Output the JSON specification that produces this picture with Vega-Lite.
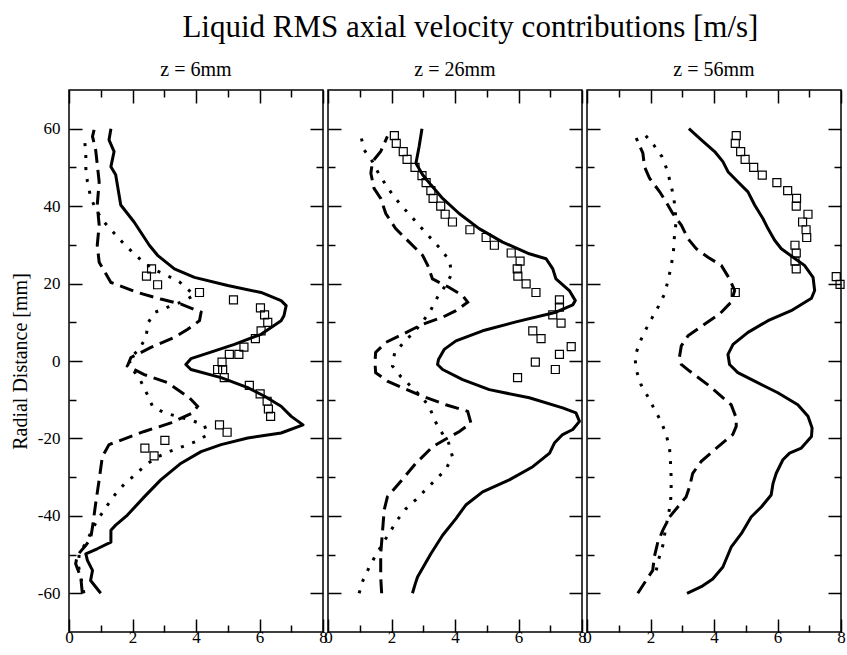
{
  "$schema": "https://vega.github.io/schema/vega-lite/v6.json",
  "padding": {"left": 9, "top": 11, "right": 0, "bottom": 0},
  "background": "white",
  "title": {"text": "Liquid RMS axial velocity contributions [m/s]", "font": "Liberation Serif", "fontSize": 31, "fontWeight": "normal", "color": "black", "anchor": "middle", "offset": 16, "dx": 42},
  "config": {
    "view": {"stroke": "black", "strokeWidth": 1.5},
    "font": "Liberation Serif",
    "axis": {"domain": false, "grid": false, "tickColor": "black", "tickWidth": 1.5, "labelFont": "Liberation Serif", "labelFontSize": 17, "labelColor": "black", "labelFlush": false, "titleFont": "Liberation Serif", "titleFontWeight": "normal", "titleFontSize": 20, "titleColor": "black"},
    "title": {"font": "Liberation Serif", "fontWeight": "normal", "fontSize": 20, "color": "black", "offset": 9}
  },
  "bounds": "flush",
  "spacing": 5,
  "datasets": {
    "p1": [
      {"s":"solid","x":1.32,"y":60},{"s":"solid","x":1.26,"y":57.1},{"s":"solid","x":1.42,"y":54.1},{"s":"solid","x":1.32,"y":50.2},{"s":"solid","x":1.47,"y":48.1},{"s":"solid","x":1.63,"y":40.3},{"s":"solid","x":2.05,"y":35.9},{"s":"solid","x":2.53,"y":29.9},{"s":"solid","x":2.79,"y":27.3},{"s":"solid","x":3.32,"y":23.8},{"s":"solid","x":3.95,"y":21.6},{"s":"solid","x":5.0,"y":19.5},{"s":"solid","x":6.05,"y":17.7},{"s":"solid","x":6.68,"y":15.6},{"s":"solid","x":6.84,"y":14.3},{"s":"solid","x":6.77,"y":11.7},{"s":"solid","x":6.68,"y":10.4},{"s":"solid","x":6.05,"y":6.9},{"s":"solid","x":5.21,"y":4.3},{"s":"solid","x":4.47,"y":2.3},{"s":"solid","x":3.84,"y":0.6},{"s":"solid","x":3.68,"y":-0.9},{"s":"solid","x":3.84,"y":-2.2},{"s":"solid","x":4.79,"y":-4.3},{"s":"solid","x":5.63,"y":-6.9},{"s":"solid","x":6.16,"y":-9.1},{"s":"solid","x":6.68,"y":-11.7},{"s":"solid","x":7.0,"y":-14.3},{"s":"solid","x":7.37,"y":-16.5},{"s":"solid","x":6.68,"y":-18.6},{"s":"solid","x":5.63,"y":-19.9},{"s":"solid","x":4.79,"y":-21.6},{"s":"solid","x":4.16,"y":-23.4},{"s":"solid","x":3.53,"y":-26.4},{"s":"solid","x":2.89,"y":-30.7},{"s":"solid","x":2.37,"y":-35.1},{"s":"solid","x":1.84,"y":-39.8},{"s":"solid","x":1.47,"y":-42.4},{"s":"solid","x":1.32,"y":-43.7},{"s":"solid","x":1.32,"y":-46.8},{"s":"solid","x":0.89,"y":-48.5},{"s":"solid","x":0.53,"y":-49.8},{"s":"solid","x":0.58,"y":-51.5},{"s":"solid","x":0.74,"y":-54.1},{"s":"solid","x":0.68,"y":-56.7},{"s":"solid","x":1.0,"y":-60},
      {"s":"dashed","x":0.79,"y":59.7},{"s":"dashed","x":0.74,"y":58},{"s":"dashed","x":0.84,"y":54.5},{"s":"dashed","x":0.95,"y":46.3},{"s":"dashed","x":0.89,"y":40.3},{"s":"dashed","x":0.95,"y":35.1},{"s":"dashed","x":0.89,"y":29.9},{"s":"dashed","x":0.95,"y":25.5},{"s":"dashed","x":1.32,"y":20.3},{"s":"dashed","x":2.16,"y":17.7},{"s":"dashed","x":2.89,"y":16.0},{"s":"dashed","x":3.53,"y":14.7},{"s":"dashed","x":4.16,"y":12.6},{"s":"dashed","x":4.11,"y":10.4},{"s":"dashed","x":3.74,"y":8.2},{"s":"dashed","x":3.32,"y":6.1},{"s":"dashed","x":2.58,"y":3.5},{"s":"dashed","x":1.95,"y":0.9},{"s":"dashed","x":1.84,"y":-1.3},{"s":"dashed","x":2.37,"y":-3.5},{"s":"dashed","x":3.11,"y":-5.6},{"s":"dashed","x":3.79,"y":-9.5},{"s":"dashed","x":4.05,"y":-11.7},{"s":"dashed","x":3.89,"y":-13.4},{"s":"dashed","x":3.21,"y":-16.0},{"s":"dashed","x":2.37,"y":-18.2},{"s":"dashed","x":1.26,"y":-21.6},{"s":"dashed","x":1.05,"y":-24.7},{"s":"dashed","x":0.95,"y":-30.7},{"s":"dashed","x":0.84,"y":-36.8},{"s":"dashed","x":0.74,"y":-42.9},{"s":"dashed","x":0.68,"y":-45.9},{"s":"dashed","x":0.53,"y":-47.6},{"s":"dashed","x":0.26,"y":-50.2},{"s":"dashed","x":0.21,"y":-52.4},{"s":"dashed","x":0.37,"y":-55.8},{"s":"dashed","x":0.42,"y":-60},
      {"s":"dotted","x":0.47,"y":58.5},{"s":"dotted","x":0.49,"y":57.1},{"s":"dotted","x":0.53,"y":53.7},{"s":"dotted","x":0.53,"y":49.8},{"s":"dotted","x":0.58,"y":46.3},{"s":"dotted","x":0.68,"y":42.4},{"s":"dotted","x":0.84,"y":39.2},{"s":"dotted","x":1.08,"y":36.1},{"s":"dotted","x":1.37,"y":33.5},{"s":"dotted","x":1.68,"y":30.7},{"s":"dotted","x":2.0,"y":28.1},{"s":"dotted","x":2.32,"y":25.7},{"s":"dotted","x":2.68,"y":23.6},{"s":"dotted","x":3.08,"y":22.1},{"s":"dotted","x":3.47,"y":20.5},{"s":"dotted","x":3.95,"y":17.0},{"s":"dotted","x":3.53,"y":15.2},{"s":"dotted","x":3.11,"y":13.9},{"s":"dotted","x":2.71,"y":12.6},{"s":"dotted","x":2.5,"y":10.0},{"s":"dotted","x":2.42,"y":6.1},{"s":"dotted","x":2.21,"y":3.0},{"s":"dotted","x":1.89,"y":0.6},{"s":"dotted","x":1.95,"y":-1.5},{"s":"dotted","x":2.26,"y":-5.2},{"s":"dotted","x":2.47,"y":-8.7},{"s":"dotted","x":2.63,"y":-11.7},{"s":"dotted","x":3.0,"y":-13.4},{"s":"dotted","x":3.42,"y":-14.3},{"s":"dotted","x":3.84,"y":-15.3},{"s":"dotted","x":4.26,"y":-16.5},{"s":"dotted","x":4.37,"y":-19.0},{"s":"dotted","x":4.0,"y":-20.8},{"s":"dotted","x":3.58,"y":-22.1},{"s":"dotted","x":3.16,"y":-23.4},{"s":"dotted","x":2.79,"y":-24.8},{"s":"dotted","x":2.42,"y":-26.8},{"s":"dotted","x":2.08,"y":-29.4},{"s":"dotted","x":1.74,"y":-31.8},{"s":"dotted","x":1.44,"y":-34.6},{"s":"dotted","x":1.19,"y":-37.5},{"s":"dotted","x":0.95,"y":-40.4},{"s":"dotted","x":0.74,"y":-43.3},{"s":"dotted","x":0.56,"y":-46.7},{"s":"dotted","x":0.32,"y":-49.6},{"s":"dotted","x":0.3,"y":-53},{"s":"dotted","x":0.4,"y":-57},{"s":"dotted","x":0.47,"y":-60},
      {"s":"exp","x":2.6,"y":23.8},{"s":"exp","x":2.44,"y":21.9},{"s":"exp","x":2.79,"y":19.7},{"s":"exp","x":4.11,"y":17.7},{"s":"exp","x":5.18,"y":15.8},{"s":"exp","x":6.03,"y":13.7},{"s":"exp","x":6.16,"y":11.9},{"s":"exp","x":6.26,"y":10.0},{"s":"exp","x":6.05,"y":7.8},{"s":"exp","x":5.87,"y":5.8},{"s":"exp","x":5.51,"y":3.6},{"s":"exp","x":5.35,"y":1.7},{"s":"exp","x":5.05,"y":1.7},{"s":"exp","x":4.82,"y":-0.3},{"s":"exp","x":4.68,"y":-2.2},{"s":"exp","x":4.84,"y":-2.2},{"s":"exp","x":4.89,"y":-4.3},{"s":"exp","x":5.68,"y":-6.3},{"s":"exp","x":6.02,"y":-8.5},{"s":"exp","x":6.24,"y":-10.4},{"s":"exp","x":6.28,"y":-12.4},{"s":"exp","x":6.35,"y":-14.3},{"s":"exp","x":4.74,"y":-16.5},{"s":"exp","x":4.98,"y":-18.4},{"s":"exp","x":3.02,"y":-20.5},{"s":"exp","x":2.39,"y":-22.5},{"s":"exp","x":2.68,"y":-24.5}
    ],
    "p2": [
      {"s":"solid","x":2.96,"y":60},{"s":"solid","x":2.87,"y":55.4},{"s":"solid","x":2.77,"y":51.1},{"s":"solid","x":2.98,"y":48.1},{"s":"solid","x":3.24,"y":45.5},{"s":"solid","x":3.61,"y":42.0},{"s":"solid","x":4.13,"y":38.1},{"s":"solid","x":4.76,"y":34.2},{"s":"solid","x":5.5,"y":30.7},{"s":"solid","x":6.34,"y":27.7},{"s":"solid","x":6.87,"y":26.4},{"s":"solid","x":7.08,"y":23.8},{"s":"solid","x":7.18,"y":21.2},{"s":"solid","x":7.6,"y":18.2},{"s":"solid","x":7.79,"y":15.6},{"s":"solid","x":7.71,"y":14.5},{"s":"solid","x":7.18,"y":12.6},{"s":"solid","x":5.92,"y":10.1},{"s":"solid","x":4.87,"y":7.8},{"s":"solid","x":4.03,"y":5.2},{"s":"solid","x":3.66,"y":3.0},{"s":"solid","x":3.48,"y":0.4},{"s":"solid","x":3.45,"y":-0.9},{"s":"solid","x":3.61,"y":-2.2},{"s":"solid","x":4.24,"y":-4.8},{"s":"solid","x":5.08,"y":-7.4},{"s":"solid","x":6.34,"y":-9.5},{"s":"solid","x":7.39,"y":-12.1},{"s":"solid","x":7.81,"y":-13.4},{"s":"solid","x":7.92,"y":-15.6},{"s":"solid","x":7.71,"y":-17.7},{"s":"solid","x":7.39,"y":-19.0},{"s":"solid","x":7.13,"y":-21.2},{"s":"solid","x":6.98,"y":-23.8},{"s":"solid","x":6.45,"y":-27.3},{"s":"solid","x":5.71,"y":-30.7},{"s":"solid","x":4.87,"y":-33.8},{"s":"solid","x":4.34,"y":-37.2},{"s":"solid","x":4.03,"y":-40.7},{"s":"solid","x":3.61,"y":-45.0},{"s":"solid","x":3.24,"y":-49.8},{"s":"solid","x":2.82,"y":-55.8},{"s":"solid","x":2.75,"y":-57.5},{"s":"solid","x":2.66,"y":-60},
      {"s":"dashed","x":1.87,"y":58.0},{"s":"dashed","x":1.66,"y":54.1},{"s":"dashed","x":1.40,"y":51.5},{"s":"dashed","x":1.35,"y":48.5},{"s":"dashed","x":1.45,"y":44.6},{"s":"dashed","x":1.66,"y":42.0},{"s":"dashed","x":1.82,"y":38.1},{"s":"dashed","x":2.13,"y":34.2},{"s":"dashed","x":2.56,"y":30.7},{"s":"dashed","x":2.98,"y":27.3},{"s":"dashed","x":3.14,"y":24.7},{"s":"dashed","x":3.29,"y":21.2},{"s":"dashed","x":3.82,"y":19.0},{"s":"dashed","x":4.24,"y":16.9},{"s":"dashed","x":4.40,"y":15.2},{"s":"dashed","x":4.03,"y":13.0},{"s":"dashed","x":3.61,"y":11.3},{"s":"dashed","x":2.98,"y":9.5},{"s":"dashed","x":2.35,"y":6.9},{"s":"dashed","x":1.82,"y":4.8},{"s":"dashed","x":1.5,"y":2.2},{"s":"dashed","x":1.48,"y":-0.4},{"s":"dashed","x":1.5,"y":-3.0},{"s":"dashed","x":1.87,"y":-5.2},{"s":"dashed","x":2.35,"y":-6.9},{"s":"dashed","x":2.98,"y":-9.1},{"s":"dashed","x":3.71,"y":-11.3},{"s":"dashed","x":4.4,"y":-13.0},{"s":"dashed","x":4.5,"y":-16.0},{"s":"dashed","x":4.14,"y":-18.2},{"s":"dashed","x":3.77,"y":-19.9},{"s":"dashed","x":3.3,"y":-22.1},{"s":"dashed","x":2.77,"y":-26.4},{"s":"dashed","x":2.24,"y":-31.6},{"s":"dashed","x":1.87,"y":-35.1},{"s":"dashed","x":1.77,"y":-38.5},{"s":"dashed","x":1.72,"y":-43.7},{"s":"dashed","x":1.66,"y":-49.8},{"s":"dashed","x":1.66,"y":-55.8},{"s":"dashed","x":1.69,"y":-60},
      {"s":"dotted","x":1.03,"y":58.3},{"s":"dotted","x":1.14,"y":54.5},{"s":"dotted","x":1.4,"y":51.5},{"s":"dotted","x":1.59,"y":48.5},{"s":"dotted","x":1.82,"y":45.5},{"s":"dotted","x":2.08,"y":42.4},{"s":"dotted","x":2.37,"y":39.6},{"s":"dotted","x":2.66,"y":37.0},{"s":"dotted","x":2.96,"y":34.2},{"s":"dotted","x":3.25,"y":31.6},{"s":"dotted","x":3.54,"y":29.0},{"s":"dotted","x":3.82,"y":26.0},{"s":"dotted","x":3.9,"y":22.5},{"s":"dotted","x":3.7,"y":19.5},{"s":"dotted","x":3.45,"y":16.5},{"s":"dotted","x":3.24,"y":13.2},{"s":"dotted","x":2.98,"y":10.1},{"s":"dotted","x":2.71,"y":7.5},{"s":"dotted","x":2.4,"y":4.9},{"s":"dotted","x":2.1,"y":2.2},{"s":"dotted","x":2.03,"y":-1.3},{"s":"dotted","x":2.3,"y":-4.1},{"s":"dotted","x":2.61,"y":-6.5},{"s":"dotted","x":2.92,"y":-9.1},{"s":"dotted","x":3.19,"y":-11.7},{"s":"dotted","x":3.35,"y":-15.2},{"s":"dotted","x":3.56,"y":-18.2},{"s":"dotted","x":3.8,"y":-21.2},{"s":"dotted","x":3.92,"y":-24.7},{"s":"dotted","x":3.71,"y":-28.0},{"s":"dotted","x":3.4,"y":-30.6},{"s":"dotted","x":3.08,"y":-33.2},{"s":"dotted","x":2.77,"y":-35.8},{"s":"dotted","x":2.45,"y":-38.2},{"s":"dotted","x":2.19,"y":-41.0},{"s":"dotted","x":1.95,"y":-44.2},{"s":"dotted","x":1.72,"y":-47.2},{"s":"dotted","x":1.5,"y":-50.2},{"s":"dotted","x":1.29,"y":-53.4},{"s":"dotted","x":1.1,"y":-56.7},{"s":"dotted","x":0.98,"y":-60},
      {"s":"exp","x":2.09,"y":58.2},{"s":"exp","x":2.15,"y":56.2},{"s":"exp","x":2.37,"y":54.1},{"s":"exp","x":2.49,"y":52.1},{"s":"exp","x":2.74,"y":50.0},{"s":"exp","x":2.96,"y":47.9},{"s":"exp","x":3.09,"y":46.1},{"s":"exp","x":3.24,"y":44.0},{"s":"exp","x":3.31,"y":42.0},{"s":"exp","x":3.55,"y":40.0},{"s":"exp","x":3.69,"y":37.9},{"s":"exp","x":3.92,"y":35.9},{"s":"exp","x":4.47,"y":33.9},{"s":"exp","x":4.98,"y":31.9},{"s":"exp","x":5.24,"y":29.9},{"s":"exp","x":5.77,"y":27.9},{"s":"exp","x":6.05,"y":25.8},{"s":"exp","x":5.96,"y":23.8},{"s":"exp","x":5.98,"y":21.9},{"s":"exp","x":6.24,"y":19.9},{"s":"exp","x":6.55,"y":17.7},{"s":"exp","x":7.29,"y":15.8},{"s":"exp","x":7.29,"y":13.9},{"s":"exp","x":7.08,"y":11.9},{"s":"exp","x":7.34,"y":9.8},{"s":"exp","x":6.45,"y":7.8},{"s":"exp","x":6.71,"y":5.8},{"s":"exp","x":7.66,"y":3.7},{"s":"exp","x":7.29,"y":1.7},{"s":"exp","x":6.53,"y":-0.3},{"s":"exp","x":7.16,"y":-2.2},{"s":"exp","x":5.97,"y":-4.3}
    ],
    "p3": [
      {"s":"solid","x":3.21,"y":60},{"s":"solid","x":3.6,"y":57.1},{"s":"solid","x":4.02,"y":54.1},{"s":"solid","x":4.28,"y":51.5},{"s":"solid","x":4.44,"y":48.9},{"s":"solid","x":4.75,"y":46.3},{"s":"solid","x":5.07,"y":43.7},{"s":"solid","x":5.28,"y":40.3},{"s":"solid","x":5.54,"y":36.8},{"s":"solid","x":5.7,"y":34.2},{"s":"solid","x":5.91,"y":31.2},{"s":"solid","x":6.12,"y":29.0},{"s":"solid","x":6.49,"y":26.8},{"s":"solid","x":6.85,"y":24.7},{"s":"solid","x":7.12,"y":21.6},{"s":"solid","x":7.17,"y":18.2},{"s":"solid","x":7.07,"y":16.2},{"s":"solid","x":6.43,"y":13.0},{"s":"solid","x":5.7,"y":10.4},{"s":"solid","x":5.07,"y":7.4},{"s":"solid","x":4.6,"y":4.3},{"s":"solid","x":4.44,"y":1.7},{"s":"solid","x":4.49,"y":-0.9},{"s":"solid","x":4.75,"y":-3.0},{"s":"solid","x":5.28,"y":-5.2},{"s":"solid","x":6.01,"y":-8.2},{"s":"solid","x":6.64,"y":-11.3},{"s":"solid","x":6.96,"y":-14.3},{"s":"solid","x":7.09,"y":-17.3},{"s":"solid","x":7.07,"y":-19.5},{"s":"solid","x":6.75,"y":-22.5},{"s":"solid","x":6.38,"y":-23.8},{"s":"solid","x":6.17,"y":-25.5},{"s":"solid","x":5.96,"y":-29.0},{"s":"solid","x":5.86,"y":-31.6},{"s":"solid","x":5.8,"y":-34.6},{"s":"solid","x":5.49,"y":-37.7},{"s":"solid","x":5.17,"y":-40.3},{"s":"solid","x":4.86,"y":-44.6},{"s":"solid","x":4.54,"y":-48.1},{"s":"solid","x":4.28,"y":-53.2},{"s":"solid","x":3.96,"y":-56.3},{"s":"solid","x":3.6,"y":-58.3},{"s":"solid","x":3.15,"y":-60},
      {"s":"dashed","x":1.55,"y":57.6},{"s":"dashed","x":1.76,"y":53.7},{"s":"dashed","x":1.81,"y":50.2},{"s":"dashed","x":1.97,"y":47.2},{"s":"dashed","x":2.29,"y":43.7},{"s":"dashed","x":2.49,"y":41.1},{"s":"dashed","x":2.7,"y":38.1},{"s":"dashed","x":2.97,"y":35.1},{"s":"dashed","x":3.18,"y":31.6},{"s":"dashed","x":3.44,"y":29.0},{"s":"dashed","x":3.81,"y":26.8},{"s":"dashed","x":4.23,"y":24.7},{"s":"dashed","x":4.49,"y":21.2},{"s":"dashed","x":4.65,"y":18.2},{"s":"dashed","x":4.54,"y":15.2},{"s":"dashed","x":4.17,"y":12.1},{"s":"dashed","x":3.7,"y":9.5},{"s":"dashed","x":3.18,"y":6.5},{"s":"dashed","x":2.97,"y":3.9},{"s":"dashed","x":2.91,"y":0.9},{"s":"dashed","x":2.97,"y":-0.9},{"s":"dashed","x":3.23,"y":-2.6},{"s":"dashed","x":3.8,"y":-6.1},{"s":"dashed","x":4.54,"y":-11.3},{"s":"dashed","x":4.7,"y":-14.7},{"s":"dashed","x":4.7,"y":-16.9},{"s":"dashed","x":4.59,"y":-19.0},{"s":"dashed","x":4.02,"y":-22.9},{"s":"dashed","x":3.6,"y":-25.9},{"s":"dashed","x":3.33,"y":-29.0},{"s":"dashed","x":3.23,"y":-32.5},{"s":"dashed","x":3.12,"y":-35.1},{"s":"dashed","x":2.86,"y":-37.7},{"s":"dashed","x":2.6,"y":-40.3},{"s":"dashed","x":2.39,"y":-43.7},{"s":"dashed","x":2.23,"y":-46.8},{"s":"dashed","x":2.12,"y":-50.6},{"s":"dashed","x":2.07,"y":-54.1},{"s":"dashed","x":1.86,"y":-56.7},{"s":"dashed","x":1.6,"y":-60},
      {"s":"dotted","x":1.81,"y":58.6},{"s":"dotted","x":2.1,"y":55.8},{"s":"dotted","x":2.36,"y":52.8},{"s":"dotted","x":2.52,"y":49.4},{"s":"dotted","x":2.63,"y":45.9},{"s":"dotted","x":2.73,"y":42.4},{"s":"dotted","x":2.78,"y":39.0},{"s":"dotted","x":2.8,"y":35.5},{"s":"dotted","x":2.75,"y":31.8},{"s":"dotted","x":2.72,"y":28.0},{"s":"dotted","x":2.65,"y":24.5},{"s":"dotted","x":2.56,"y":21.0},{"s":"dotted","x":2.44,"y":17.3},{"s":"dotted","x":2.25,"y":14.1},{"s":"dotted","x":2.04,"y":11.0},{"s":"dotted","x":1.83,"y":7.8},{"s":"dotted","x":1.65,"y":4.6},{"s":"dotted","x":1.51,"y":1.1},{"s":"dotted","x":1.55,"y":-2.3},{"s":"dotted","x":1.7,"y":-6.1},{"s":"dotted","x":1.91,"y":-9.1},{"s":"dotted","x":2.12,"y":-12.4},{"s":"dotted","x":2.33,"y":-15.6},{"s":"dotted","x":2.49,"y":-18.9},{"s":"dotted","x":2.6,"y":-22.5},{"s":"dotted","x":2.63,"y":-26.2},{"s":"dotted","x":2.65,"y":-29.9},{"s":"dotted","x":2.65,"y":-33.3},{"s":"dotted","x":2.63,"y":-36.8},{"s":"dotted","x":2.56,"y":-39.8},{"s":"dotted","x":2.47,"y":-43.5},{"s":"dotted","x":2.39,"y":-47.6},{"s":"dotted","x":2.26,"y":-51.1},{"s":"dotted","x":2.18,"y":-54.1},
      {"s":"exp","x":4.7,"y":58.2},{"s":"exp","x":4.67,"y":56.2},{"s":"exp","x":4.84,"y":54.1},{"s":"exp","x":4.98,"y":52.1},{"s":"exp","x":5.25,"y":50.0},{"s":"exp","x":5.52,"y":48.0},{"s":"exp","x":5.98,"y":46.1},{"s":"exp","x":6.32,"y":44.0},{"s":"exp","x":6.6,"y":42.0},{"s":"exp","x":6.59,"y":40.0},{"s":"exp","x":6.96,"y":37.9},{"s":"exp","x":6.79,"y":35.9},{"s":"exp","x":6.9,"y":33.9},{"s":"exp","x":6.92,"y":31.9},{"s":"exp","x":6.55,"y":29.9},{"s":"exp","x":6.59,"y":27.9},{"s":"exp","x":6.55,"y":25.8},{"s":"exp","x":6.59,"y":23.8},{"s":"exp","x":7.85,"y":21.8},{"s":"exp","x":7.97,"y":19.8},{"s":"exp","x":4.67,"y":17.7}
    ]
  },
  "hconcat": [
    {
      "title": "z = 6mm",
      "width": 254, "height": 542,
      "resolve": {"axis": {"x": "independent", "y": "independent"}},
      "layer": [
        {"data": {"name": "p1"}, "transform": [{"filter": "datum.s == 'solid'"}],
         "mark": {"type": "line", "stroke": "black", "strokeWidth": 3, "strokeJoin": "round"},
         "encoding": {
           "x": {"field": "x", "type": "quantitative", "scale": {"domain": [0, 8], "nice": false, "zero": false}, "axis": {"orient": "bottom", "values": [0, 2, 4, 6, 8], "tickSize": -13, "labelPadding": 10, "title": null}},
           "y": {"field": "y", "type": "quantitative", "scale": {"domain": [-70, 70], "nice": false, "zero": false}, "axis": {"orient": "left", "values": [-60, -40, -20, 0, 20, 40, 60], "tickSize": -13, "labelPadding": 22, "labelExpr": "datum.value + ''", "title": "Radial Distance [mm]", "titlePadding": 7}},
           "order": {"field": "y", "type": "quantitative"}}},
        {"data": {"name": "p1"}, "transform": [{"filter": "datum.s == 'dashed'"}],
         "mark": {"type": "line", "stroke": "black", "strokeWidth": 3, "strokeDash": [14, 7]},
         "encoding": {
           "x": {"field": "x", "type": "quantitative", "scale": {"domain": [0, 8], "nice": false, "zero": false}, "axis": {"orient": "bottom", "values": [1, 3, 5, 7], "tickSize": -7, "labels": false, "title": null}},
           "y": {"field": "y", "type": "quantitative", "scale": {"domain": [-70, 70], "nice": false, "zero": false}, "axis": {"orient": "left", "values": [-50, -30, -10, 10, 30, 50], "tickSize": -7, "labels": false, "title": null}},
           "order": {"field": "y", "type": "quantitative"}}},
        {"data": {"name": "p1"}, "transform": [{"filter": "datum.s == 'dotted'"}],
         "mark": {"type": "line", "stroke": "black", "strokeWidth": 3, "strokeDash": [3, 9]},
         "encoding": {
           "x": {"field": "x", "type": "quantitative", "scale": {"domain": [0, 8], "nice": false, "zero": false}, "axis": {"orient": "top", "values": [0, 2, 4, 6, 8], "tickSize": -13, "labels": false, "title": null}},
           "y": {"field": "y", "type": "quantitative", "scale": {"domain": [-70, 70], "nice": false, "zero": false}, "axis": {"orient": "right", "values": [-60, -40, -20, 0, 20, 40, 60], "tickSize": -13, "labels": false, "title": null}},
           "order": {"field": "y", "type": "quantitative"}}},
        {"data": {"name": "p1"}, "transform": [{"filter": "datum.s == 'exp'"}],
         "mark": {"type": "point", "shape": "square", "size": 64, "filled": false, "stroke": "black", "strokeWidth": 1.2, "opacity": 1},
         "encoding": {
           "x": {"field": "x", "type": "quantitative", "scale": {"domain": [0, 8], "nice": false, "zero": false}, "axis": {"orient": "top", "values": [1, 3, 5, 7], "tickSize": -7, "labels": false, "title": null}},
           "y": {"field": "y", "type": "quantitative", "scale": {"domain": [-70, 70], "nice": false, "zero": false}, "axis": {"orient": "right", "values": [-50, -30, -10, 10, 30, 50], "tickSize": -7, "labels": false, "title": null}}}}
      ]
    },
    {
      "title": "z = 26mm",
      "width": 254, "height": 542,
      "resolve": {"axis": {"x": "independent", "y": "independent"}},
      "layer": [
        {"data": {"name": "p2"}, "transform": [{"filter": "datum.s == 'solid'"}],
         "mark": {"type": "line", "stroke": "black", "strokeWidth": 3, "strokeJoin": "round"},
         "encoding": {
           "x": {"field": "x", "type": "quantitative", "scale": {"domain": [0, 8], "nice": false, "zero": false}, "axis": {"orient": "bottom", "values": [0, 2, 4, 6, 8], "tickSize": -13, "labelPadding": 10, "title": null}},
           "y": {"field": "y", "type": "quantitative", "scale": {"domain": [-70, 70], "nice": false, "zero": false}, "axis": {"orient": "left", "values": [-60, -40, -20, 0, 20, 40, 60], "tickSize": -13, "labels": false, "title": null}},
           "order": {"field": "y", "type": "quantitative"}}},
        {"data": {"name": "p2"}, "transform": [{"filter": "datum.s == 'dashed'"}],
         "mark": {"type": "line", "stroke": "black", "strokeWidth": 3, "strokeDash": [14, 7]},
         "encoding": {
           "x": {"field": "x", "type": "quantitative", "scale": {"domain": [0, 8], "nice": false, "zero": false}, "axis": {"orient": "bottom", "values": [1, 3, 5, 7], "tickSize": -7, "labels": false, "title": null}},
           "y": {"field": "y", "type": "quantitative", "scale": {"domain": [-70, 70], "nice": false, "zero": false}, "axis": {"orient": "left", "values": [-50, -30, -10, 10, 30, 50], "tickSize": -7, "labels": false, "title": null}},
           "order": {"field": "y", "type": "quantitative"}}},
        {"data": {"name": "p2"}, "transform": [{"filter": "datum.s == 'dotted'"}],
         "mark": {"type": "line", "stroke": "black", "strokeWidth": 3, "strokeDash": [3, 9]},
         "encoding": {
           "x": {"field": "x", "type": "quantitative", "scale": {"domain": [0, 8], "nice": false, "zero": false}, "axis": {"orient": "top", "values": [0, 2, 4, 6, 8], "tickSize": -13, "labels": false, "title": null}},
           "y": {"field": "y", "type": "quantitative", "scale": {"domain": [-70, 70], "nice": false, "zero": false}, "axis": {"orient": "right", "values": [-60, -40, -20, 0, 20, 40, 60], "tickSize": -13, "labels": false, "title": null}},
           "order": {"field": "y", "type": "quantitative"}}},
        {"data": {"name": "p2"}, "transform": [{"filter": "datum.s == 'exp'"}],
         "mark": {"type": "point", "shape": "square", "size": 64, "filled": false, "stroke": "black", "strokeWidth": 1.2, "opacity": 1},
         "encoding": {
           "x": {"field": "x", "type": "quantitative", "scale": {"domain": [0, 8], "nice": false, "zero": false}, "axis": {"orient": "top", "values": [1, 3, 5, 7], "tickSize": -7, "labels": false, "title": null}},
           "y": {"field": "y", "type": "quantitative", "scale": {"domain": [-70, 70], "nice": false, "zero": false}, "axis": {"orient": "right", "values": [-50, -30, -10, 10, 30, 50], "tickSize": -7, "labels": false, "title": null}}}}
      ]
    },
    {
      "title": "z = 56mm",
      "width": 254, "height": 542,
      "resolve": {"axis": {"x": "independent", "y": "independent"}},
      "layer": [
        {"data": {"name": "p3"}, "transform": [{"filter": "datum.s == 'solid'"}],
         "mark": {"type": "line", "stroke": "black", "strokeWidth": 3, "strokeJoin": "round"},
         "encoding": {
           "x": {"field": "x", "type": "quantitative", "scale": {"domain": [0, 8], "nice": false, "zero": false}, "axis": {"orient": "bottom", "values": [0, 2, 4, 6, 8], "tickSize": -13, "labelPadding": 10, "title": null}},
           "y": {"field": "y", "type": "quantitative", "scale": {"domain": [-70, 70], "nice": false, "zero": false}, "axis": {"orient": "left", "values": [-60, -40, -20, 0, 20, 40, 60], "tickSize": -13, "labels": false, "title": null}},
           "order": {"field": "y", "type": "quantitative"}}},
        {"data": {"name": "p3"}, "transform": [{"filter": "datum.s == 'dashed'"}],
         "mark": {"type": "line", "stroke": "black", "strokeWidth": 3, "strokeDash": [14, 7]},
         "encoding": {
           "x": {"field": "x", "type": "quantitative", "scale": {"domain": [0, 8], "nice": false, "zero": false}, "axis": {"orient": "bottom", "values": [1, 3, 5, 7], "tickSize": -7, "labels": false, "title": null}},
           "y": {"field": "y", "type": "quantitative", "scale": {"domain": [-70, 70], "nice": false, "zero": false}, "axis": {"orient": "left", "values": [-50, -30, -10, 10, 30, 50], "tickSize": -7, "labels": false, "title": null}},
           "order": {"field": "y", "type": "quantitative"}}},
        {"data": {"name": "p3"}, "transform": [{"filter": "datum.s == 'dotted'"}],
         "mark": {"type": "line", "stroke": "black", "strokeWidth": 3, "strokeDash": [3, 9]},
         "encoding": {
           "x": {"field": "x", "type": "quantitative", "scale": {"domain": [0, 8], "nice": false, "zero": false}, "axis": {"orient": "top", "values": [0, 2, 4, 6, 8], "tickSize": -13, "labels": false, "title": null}},
           "y": {"field": "y", "type": "quantitative", "scale": {"domain": [-70, 70], "nice": false, "zero": false}, "axis": {"orient": "right", "values": [-60, -40, -20, 0, 20, 40, 60], "tickSize": -13, "labels": false, "title": null}},
           "order": {"field": "y", "type": "quantitative"}}},
        {"data": {"name": "p3"}, "transform": [{"filter": "datum.s == 'exp'"}],
         "mark": {"type": "point", "shape": "square", "size": 64, "filled": false, "stroke": "black", "strokeWidth": 1.2, "opacity": 1},
         "encoding": {
           "x": {"field": "x", "type": "quantitative", "scale": {"domain": [0, 8], "nice": false, "zero": false}, "axis": {"orient": "top", "values": [1, 3, 5, 7], "tickSize": -7, "labels": false, "title": null}},
           "y": {"field": "y", "type": "quantitative", "scale": {"domain": [-70, 70], "nice": false, "zero": false}, "axis": {"orient": "right", "values": [-50, -30, -10, 10, 30, 50], "tickSize": -7, "labels": false, "title": null}}}}
      ]
    }
  ]
}
